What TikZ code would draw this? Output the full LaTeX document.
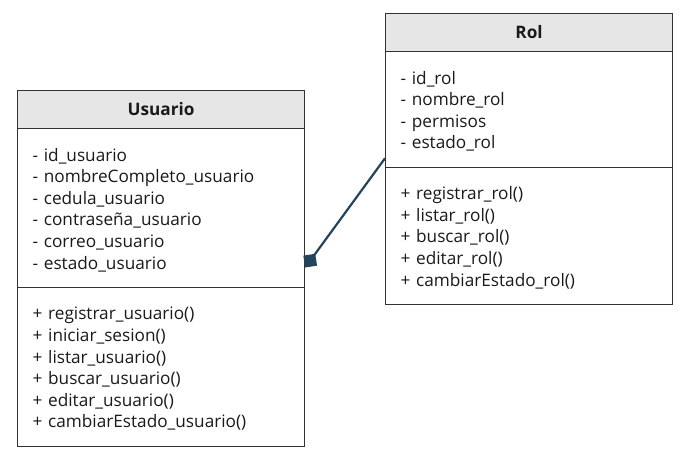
\documentclass[tikz,border=0pt]{standalone}
\usepackage{fontspec}
\usepackage{tikz}
\usetikzlibrary{arrows.meta}
\usetikzlibrary{shapes}
\newfontfamily\umlfont{Open Sans}
\definecolor{headgray}{HTML}{E6E6E6}
\definecolor{boxgray}{HTML}{333333}
\definecolor{textdark}{HTML}{1A1A1A}
\definecolor{linkblue}{HTML}{23445D}
\newcommand{\headrow}{\rule[-12.5pt]{0pt}{37pt}}
\newcommand{\firstrow}{\rule{0pt}{31.8pt}}
\newcommand{\lastrow}{\rule[-17.7pt]{0pt}{17.7pt}}

\begin{document}
\begin{tikzpicture}[x=1pt,y=-1pt]
\tikzstyle{umlclass}=[rectangle split, rectangle split parts=3, draw=boxgray, line width=1.2pt,
  rectangle split part fill={headgray,white,white}, text width=257pt, inner xsep=15pt, inner ysep=0pt,
  align=left, text=textdark, font={\umlfont\fontsize{17.2pt}{21.6pt}\selectfont}, anchor=north west]
\tikzstyle{composition}=[draw=linkblue, line width=2.2pt, -{Diamond[length=17pt,width=17pt]}]
\useasboundingbox (0,0) rectangle (693,462);
\node[umlclass] (usuario) at (17,90) {\centerline{\headrow\textbf{Usuario}}
  \nodepart{two}\firstrow- id\_usuario\\- nombreCompleto\_usuario\\- cedula\_usuario\\
  - contraseña\_usuario\\- correo\_usuario\\- estado\_usuario\lastrow
  \nodepart{three}\firstrow+ registrar\_usuario()\\+ iniciar\_sesion()\\+ listar\_usuario()\\
  + buscar\_usuario()\\+ editar\_usuario()\\+ cambiarEstado\_usuario()\lastrow};
\node[umlclass] (rol) at (385,13) {\centerline{\headrow\textbf{Rol}}
  \nodepart{two}\firstrow- id\_rol\\- nombre\_rol\\- permisos\\- estado\_rol\lastrow
  \nodepart{three}\firstrow+ registrar\_rol()\\+ listar\_rol()\\+ buscar\_rol()\\
  + editar\_rol()\\+ cambiarEstado\_rol()\lastrow};
%\draw (rol.west) -- (usuario.east);
\draw[composition] ([yshift=9pt]rol.two split west) -- ([yshift=20pt]usuario.two split east);
\end{tikzpicture}
\end{document}
